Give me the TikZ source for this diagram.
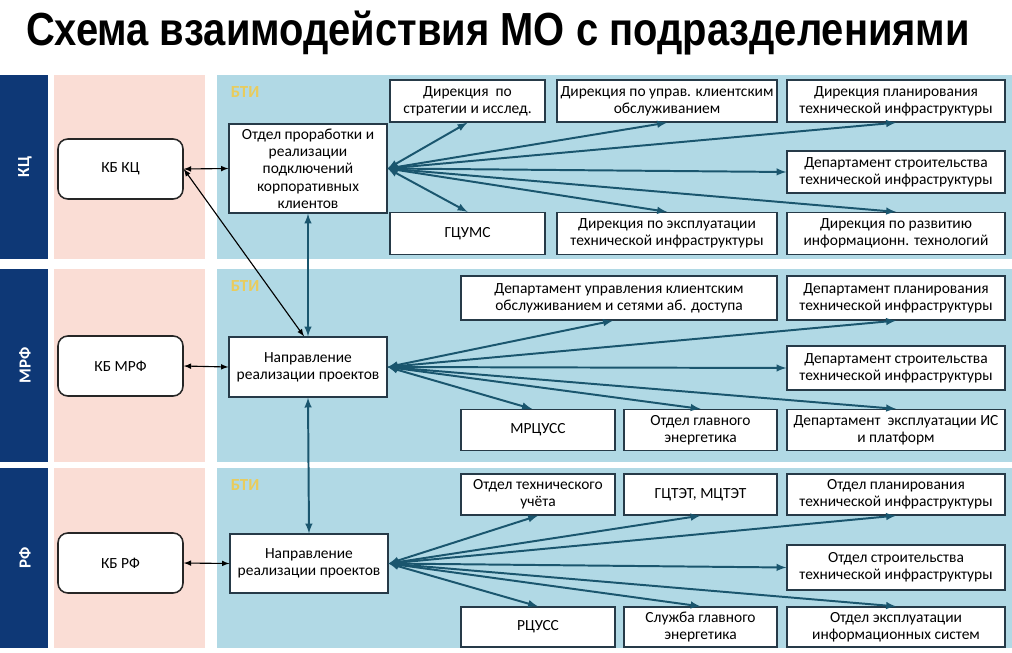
\documentclass[tikz,border=0pt]{standalone}
\usepackage{fontspec}
\setmainfont{Carlito}
\newfontfamily\titrefont{Liberation Sans}
\usetikzlibrary{calc}
\definecolor{bleufonce}{RGB}{14,56,118}
\definecolor{rose}{RGB}{250,221,213}
\definecolor{bleuclair}{RGB}{177,217,229}
\definecolor{petrole}{RGB}{26,86,110}
\definecolor{jaune}{RGB}{233,204,92}
\definecolor{bord}{RGB}{38,58,72}

\begin{document}
\begin{tikzpicture}[x=0.025cm,y=-0.025cm,
		taille/.style 2 args={minimum width=#1*0.025cm,minimum height=#2*0.025cm},
		boite/.style={draw=bord,line width=0.9pt,fill=white,align=center,inner sep=1pt,font=\fontsize{11}{12.3}\selectfont},
		kb/.style={boite,draw=black!85,line width=1.1pt,rounded corners=7pt},
		fleche/.style={petrole,line width=1.4pt,latex-latex},
		lien/.style={black,line width=0.8pt,latex-latex},
		bti/.style={jaune,anchor=west,font=\bfseries\fontsize{12}{13}\selectfont},
		bande/.style={white,rotate=90,font=\bfseries\fontsize{12}{13}\selectfont}]
	\useasboundingbox (0,0) rectangle (1012,652);
	% titre
	\node[font=\titrefont\bfseries\fontsize{33}{36}\selectfont,xscale=0.86,transform shape] (titre) at (498,33) {Схема взаимодействия МО с подразделениями};
	% bandes de fond : une par ligne (haut, bas)
	\foreach \haut/\bas/\nom in {75/259/КЦ,269/462/МРФ,468/648/РФ}{%
		\fill[bleufonce] (0,\haut) rectangle (48,\bas);
		\fill[rose] (54,\haut) rectangle (205,\bas);
		\fill[bleuclair] (217,\haut) rectangle (1012,\bas);
		\node[bande] at (25,{(\haut+\bas)/2}) {\nom};
		\node[bti] at (226,\haut+17) {БТИ};
		}
	% ligne КЦ
	\node[kb,taille={125}{60}] (kb1) at (120.5,169) {КБ КЦ};
	\node[boite,taille={158}{89}] (o1) at (308,168.5) {Отдел проработки и\\реализации\\подключений\\корпоративных\\клиентов};
	\node[boite,taille={155}{42}] (d11) at (467.5,101) {Дирекция \ по\\стратегии и исслед.};
	\node[boite,taille={220}{42}] (d12) at (667,101) {Дирекция по управ. клиентским\\обслуживанием};
	\node[boite,taille={218}{42}] (d13) at (896,101) {Дирекция планирования\\технической инфраструктуры};
	\node[boite,taille={218}{42}] (d14) at (896,172) {Департамент строительства\\технической инфраструктуры};
	\node[boite,taille={155}{42}] (d15) at (467.5,233.5) {ГЦУМС};
	\node[boite,taille={220}{42}] (d16) at (667,233.5) {Дирекция по эксплуатации\\технической инфраструктуры};
	\node[boite,taille={218}{42}] (d17) at (896,233.5) {Дирекция по развитию\\информационн. технологий};
	% ligne МРФ
	\node[kb,taille={125}{60}] (kb2) at (120.5,366) {КБ МРФ};
	\node[boite,taille={158}{60}] (n2) at (308,367) {Направление\\реализации проектов};
	\node[boite,taille={316}{44}] (d21) at (619,298) {Департамент управления клиентским\\обслуживанием и сетями аб. доступа};
	\node[boite,taille={218}{44}] (d22) at (896,298) {Департамент планирования\\технической инфраструктуры};
	\node[boite,taille={218}{44}] (d23) at (896,368) {Департамент строительства\\технической инфраструктуры};
	\node[boite,taille={154}{41}] (d24) at (538,430) {МРЦУСС};
	\node[boite,taille={153}{41}] (d25) at (700.5,430) {Отдел главного\\энергетика};
	\node[boite,taille={218}{41}] (d26) at (896,430) {Департамент \ эксплуатации ИС\\и платформ};
	% ligne РФ
	\node[kb,taille={125}{60}] (kb3) at (120.5,563) {КБ РФ};
	\node[boite,taille={158}{59}] (n3) at (309,563.5) {Направление\\реализации проектов};
	\node[boite,taille={154}{41}] (d31) at (538,494.5) {Отдел технического\\учёта};
	\node[boite,taille={153}{41}] (d32) at (700.5,494.5) {ГЦТЭТ, МЦТЭТ};
	\node[boite,taille={218}{41}] (d33) at (896,494.5) {Отдел планирования\\технической инфраструктуры};
	\node[boite,taille={218}{45}] (d34) at (896,567.5) {Отдел строительства\\технической инфраструктуры};
	\node[boite,taille={154}{40}] (d35) at (538,627) {РЦУСС};
	\node[boite,taille={153}{40}] (d36) at (700.5,627) {Служба главного\\энергетика};
	\node[boite,taille={218}{40}] (d37) at (896,627) {Отдел эксплуатации\\информационных систем};
	% liens КБ <-> БТИ
	\foreach \a/\b in {kb1/o1,kb2/n2,kb3/n3}
		\draw[lien] (\a.east) -- (\b.west);
	\draw[lien] (kb1.east) -- ($(n2.north)+(-4,0)$);
	\draw[fleche] (o1.south) -- (n2.north);
	\draw[fleche] (n2.south) -- (n3.north);
	% éventails
	\foreach \cible/\ancre in {d11/south,d12/south,d13/south,d14/west,d15/north,d16/north,d17/north}
		\draw[fleche] (o1.east) -- (\cible.\ancre);
	\foreach \cible/\ancre in {d22/south,d23/west,d25/north,d26/north}
		\draw[fleche] (n2.east) -- (\cible.\ancre);
	\draw[fleche] (n2.east) -- ($(d21.south)+(-6,0)$);
	\draw[fleche] (n2.east) -- ($(d24.north)+(-6,0)$);
	\foreach \cible/\ancre in {d31/south,d32/south,d33/south,d34/west,d35/north,d36/north,d37/north}
		\draw[fleche] (n3.east) -- (\cible.\ancre);
\end{tikzpicture}
\end{document}
